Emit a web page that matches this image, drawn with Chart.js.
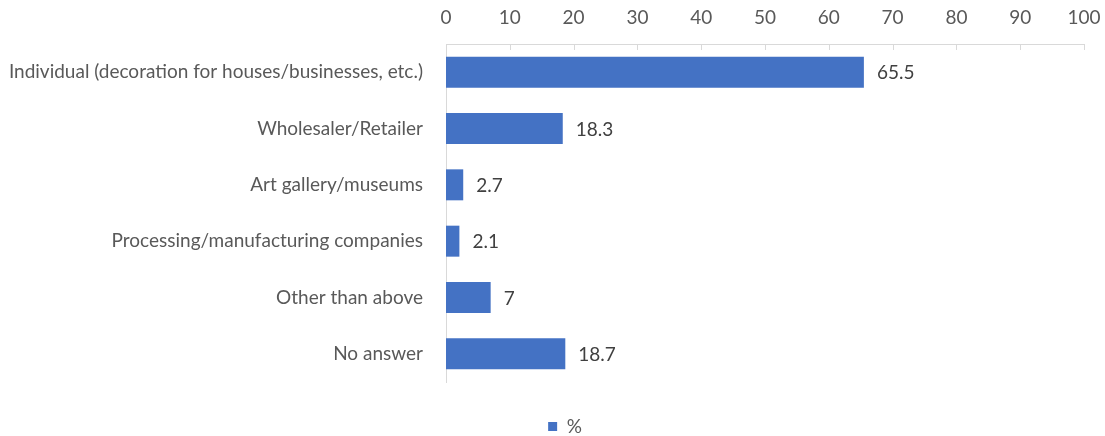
<!DOCTYPE html>
<html>
<head>
<meta charset="utf-8">
<script src="https://cdn.jsdelivr.net/npm/chart.js@4/dist/chart.umd.min.js"></script>
<style>
  html, body { margin: 0; padding: 0; background: #fff; }
</style>
</head>
<body>
<canvas id="chart" width="1105" height="436"></canvas>
<script>
// Buyers of the products, share of respondents (%)
const categories = [
  'Individual (decoration for houses/businesses, etc.)',
  'Wholesaler/Retailer',
  'Art gallery/museums',
  'Processing/manufacturing companies',
  'Other than above',
  'No answer'
];
const shares = [65.5, 18.3, 2.7, 2.1, 7, 18.7];
const seriesName = '%';
const axisMin = 0;
const axisMax = 100;
const axisStep = 10;

const FONT = 'Lato';
const SIZE = 19;
const BAR = '#4472C4';
const AXIS = '#d9d9d9';
const TEXT = '#595959';

// value printed just past the end of each bar
const valueLabels = {
  id: 'valueLabels',
  afterDatasetsDraw(chart) {
    const { ctx } = chart;
    const meta = chart.getDatasetMeta(0);
    ctx.save();
    ctx.font = SIZE + 'px ' + FONT;
    ctx.fillStyle = '#404040';
    ctx.textAlign = 'left';
    ctx.textBaseline = 'middle';
    meta.data.forEach((bar, i) => {
      ctx.fillText(String(shares[i]), bar.x + 13, bar.y + 1);
    });
    ctx.restore();
  }
};

// small tick marks hanging below the top axis line
const innerTicks = {
  id: 'innerTicks',
  afterDraw(chart) {
    const { ctx } = chart;
    const x = chart.scales.x;
    ctx.save();
    ctx.strokeStyle = AXIS;
    ctx.lineWidth = 1;
    ctx.beginPath();
    x.ticks.forEach(t => {
      const px = Math.round(x.getPixelForValue(t.value)) + 0.5;
      ctx.moveTo(px, x.bottom);
      ctx.lineTo(px, x.bottom + 6);
    });
    ctx.stroke();
    ctx.restore();
  }
};

// legend sits a little right of the canvas centre
const legendOffset = {
  id: 'legendOffset',
  afterLayout(chart) {
    if (chart.legend) chart.legend.left += 46;
  }
};

new Chart(document.getElementById('chart'), {
  type: 'bar',
  data: {
    labels: categories,
    datasets: [{
      label: seriesName,
      data: shares,
      backgroundColor: BAR,
      borderWidth: 0,
      barPercentage: 0.55,
      categoryPercentage: 1
    }]
  },
  options: {
    indexAxis: 'y',
    responsive: false,
    animation: false,
    layout: { padding: { left: 0, right: 21, top: 0, bottom: 0 } },
    scales: {
      x: {
        position: 'top',
        min: axisMin,
        max: axisMax,
        afterFit(s) {
          s.height = 44;
          s.paddingLeft = 0;
          s.paddingRight = 0;
        },
        grid: { display: false, drawTicks: false, tickLength: 0 },
        border: { display: true, color: AXIS, width: 1 },
        ticks: {
          stepSize: axisStep,
          padding: 15,
          color: TEXT,
          font: { family: FONT, size: SIZE }
        }
      },
      y: {
        afterFit(s) { s.width = 446; },
        grid: { display: false, drawTicks: false, tickLength: 0 },
        border: { display: true, color: AXIS, width: 1 },
        ticks: {
          padding: 23,
          color: TEXT,
          font: { family: FONT, size: SIZE }
        }
      }
    },
    plugins: {
      legend: {
        position: 'bottom',
        maxHeight: 54,
        labels: {
          boxWidth: 9,
          boxHeight: 9,
          padding: 35,
          color: TEXT,
          font: { family: FONT, size: SIZE }
        }
      },
      tooltip: { enabled: false }
    }
  },
  plugins: [valueLabels, innerTicks, legendOffset]
});
</script>
</body>
</html>
